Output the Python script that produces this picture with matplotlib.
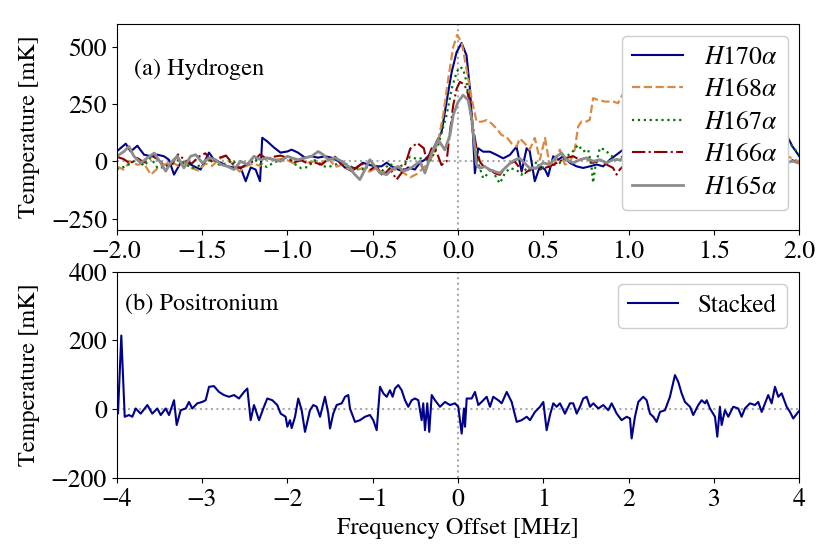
import numpy as np
import matplotlib
matplotlib.use("Agg")
import matplotlib.pyplot as plt

plt.rcParams['font.family'] = ['STIXGeneral', 'DejaVu Serif']
plt.rcParams['mathtext.fontset'] = 'stix'
plt.rcParams['font.size'] = 17
plt.rcParams['xtick.labelsize'] = 18.5
plt.rcParams['ytick.labelsize'] = 18.5

# ---- (a) hydrogen recombination lines ----
x_170 = [-2.0, -1.947, -1.918, -1.879, -1.84, -1.80, -1.762, -1.723, -1.694, -1.664,
         -1.625, -1.586, -1.547, -1.508, -1.459, -1.43, -1.39, -1.352, -1.313, -1.274,
         -1.244, -1.215, -1.186, -1.16, -1.147, -1.118, -1.078, -1.04, -1.0, -0.975,
         -0.938, -0.897, -0.858, -0.82, -0.78, -0.74, -0.70, -0.663, -0.623, -0.594,
         -0.557, -0.528, -0.487, -0.448, -0.418, -0.389, -0.35, -0.321, -0.292, -0.253,
         -0.223, -0.194, -0.155, -0.125, -0.096, -0.067, -0.037, -0.008, 0.021, 0.05,
         0.07, 0.089, 0.099, 0.118, 0.148, 0.187, 0.226, 0.265, 0.304, 0.343,
         0.373, 0.402, 0.42, 0.45, 0.48, 0.51, 0.528, 0.558, 0.587, 0.616,
         0.656, 0.695, 0.733, 0.773, 0.812, 0.851, 0.89, 0.929, 0.968, 0.988,
         1.05, 1.15, 1.25, 1.35, 1.45, 1.55, 1.65, 1.75, 1.85, 1.92, 1.96, 2.0]
h170 = [43, 77, 43, 68, 29, 22, 29, 22, 7, -58,
        -6, -6, -22, -36, 38, 7, -6, -22, -27, -27,
        -87, -27, -36, -87, 103, 87, 60, 38, 43, 51,
        38, 16, 22, 16, 22, 16, 0, -27, -43, -27,
        -6, -14, -22, -22, -6, -22, -36, -43, -27, -36,
        -6, 7, 38, 86, 129, 260, 390, 477, 517, 463,
        317, 100, -52, 57, 42, 42, 28, 13, 28, 64,
        -45, 57, 45, -87, -22, -36, -65, 22, 7, 22,
        -7, -22, -29, -22, -14, -22, 7, 29, 51, 72,
        90, 60, 40, 30, 50, 70, 85, 110, 123, 123, 65, 22]

# shared channel positions for the quiet part of the band
x_base = [-2.0, -1.96, -1.92, -1.88, -1.84, -1.80, -1.76, -1.72, -1.68, -1.64,
          -1.60, -1.56, -1.52, -1.48, -1.44, -1.40, -1.36, -1.32, -1.28, -1.24,
          -1.20, -1.16, -1.12, -1.08, -1.04, -1.00, -0.96, -0.92, -0.88, -0.84,
          -0.80, -0.76, -0.72, -0.68, -0.64, -0.60, -0.56, -0.52, -0.48, -0.44,
          -0.40, -0.36, -0.32, -0.28, -0.24]

x_168 = x_base + [-0.184, -0.145, -0.116, -0.087, -0.057, -0.028, -0.005, 0.021, 0.05, 0.08,
                  0.109, 0.138, 0.168, 0.197, 0.226, 0.255, 0.284, 0.314, 0.343, 0.362,
                  0.392, 0.42, 0.45, 0.48, 0.51, 0.538, 0.567, 0.597, 0.626, 0.655,
                  0.684, 0.704, 0.724, 0.753, 0.772, 0.792, 0.821, 0.861, 0.909, 0.938,
                  0.968, 0.988, 1.1, 1.3, 1.5, 1.7, 1.85, 1.92, 1.96, 2.0]
h168 = [-22, -36, 0, -15, -10, -58, -30, -15, 0, -20,
        -5, -30, -40, -10, -20, 10, 25, -15, -45, -20,
        -10, -20, 15, 5, 10, 5, -10, 10, -5, 0,
        -10, 15, -25, -15, -35, -40, -30, -45, -30, -50,
        -40, -35, -50, -70, -55,
        -16, 28, 86, 202, 361, 499, 552, 520, 404, 274,
        173, 173, 180, 165, 143, 115, 107, 78, 64, 100,
        78, 51, 102, 7, 102, -22, -7, 51, -14, -7,
        51, 152, 174, 174, 181, 276, 268, 261, 261, 254,
        297, 326, 340, 330, 300, 280, 250, 30, 10, 0]

x_167 = x_base + [-0.2, -0.165, -0.116, -0.067, -0.037, -0.008, 0.011, 0.03, 0.05, 0.07,
                  0.089, 0.109, 0.128, 0.148, 0.168, 0.197, 0.226, 0.245, 0.275, 0.304,
                  0.343, 0.372, 0.402, 0.431, 0.46, 0.48, 0.538, 0.597, 0.636, 0.665,
                  0.704, 0.733, 0.763, 0.782, 0.792, 0.802, 0.831, 0.861, 0.89, 0.929,
                  0.968, 1.1, 1.3, 1.5, 1.7, 1.85, 1.92, 1.96, 2.0]
h167 = [-35, -25, -10, 10, -20, 15, -30, -25, -15, 5,
        -10, -30, -20, -5, 10, -15, -10, 5, -30, -20,
        15, -10, -25, -5, 5, 20, -10, -30, -25, 5,
        -20, -25, -15, 0, -20, -30, -35, -10, -25, -40,
        -10, -30, -15, 20, 10,
        15, -1, 71, 202, 317, 390, 412, 404, 347, 231,
        115, 28, -30, -74, -59, -30, -74, -96, -52, -30,
        -37, -59, -30, -45, -1, -29, -22, -7, 22, 36,
        72, 43, 51, -22, -94, -36, 58, 51, 29, 7,
        22, 10, -10, 15, 0, 20, 94, 65, 30]

x_166 = x_base + [-0.2, -0.184, -0.155, -0.126, -0.097, -0.067, -0.047, -0.028, -0.008, 0.011,
                  0.03, 0.05, 0.07, 0.089, 0.109, 0.128, 0.157, 0.187, 0.216, 0.245,
                  0.275, 0.304, 0.333, 0.362, 0.392, 0.42, 0.45, 0.48, 0.538, 0.597,
                  0.636, 0.675, 0.714, 0.753, 0.792, 0.831, 0.87, 0.909, 0.929, 0.948,
                  0.978, 1.1, 1.3, 1.5, 1.7, 1.85, 1.92, 1.96, 2.0]
h166 = [20, 10, -10, 15, -5, 25, 10, -20, -15, 30,
        5, -10, 20, 35, -5, 15, 25, -10, -30, -15,
        0, 30, 10, 20, 25, 15, -5, 5, -10, -5,
        -15, 10, 20, -15, -25, -30, -10, -40, -20, -65,
        -30, -80, -40, 55, 80,
        57, -1, 57, 42, -16, -1, 129, 245, 317, 347,
        339, 317, 260, 143, 57, -1, -30, -37, -52, -59,
        -30, -9, -1, -30, -52, -37, -30, -36, -22, 0,
        15, 22, 7, 15, -7, 7, -14, -29, -58, -36,
        -14, 0, 10, -10, 5, 0, -5, 5, -10]

x_165 = [-2.0, -1.957, -1.928, -1.899, -1.859, -1.82, -1.78, -1.742, -1.713, -1.684,
         -1.645, -1.606, -1.567, -1.537, -1.498, -1.459, -1.42, -1.39, -1.352, -1.313,
         -1.274, -1.235, -1.196, -1.156, -1.118, -1.078, -1.04, -1.0, -0.975, -0.936,
         -0.897, -0.858, -0.819, -0.79, -0.76, -0.721, -0.682, -0.643, -0.604, -0.575,
         -0.545, -0.516, -0.487, -0.457, -0.418, -0.389, -0.35, -0.321, -0.292, -0.262,
         -0.223, -0.194, -0.155, -0.116, -0.077, -0.047, -0.028, 0.001, 0.03, 0.06,
         0.08, 0.099, 0.108, 0.128, 0.157, 0.187, 0.216, 0.245, 0.275, 0.304,
         0.333, 0.362, 0.392, 0.42, 0.46, 0.499, 0.538, 0.578, 0.607, 0.636,
         0.675, 0.714, 0.753, 0.792, 0.831, 0.87, 0.909, 0.948, 0.988, 1.1,
         1.3, 1.5, 1.7, 1.85, 1.92, 1.96, 2.0]
h165 = [22, 43, 65, 22, -7, 15, 36, -7, -43, -7,
        22, -29, 22, 29, -7, 15, 7, -14, -22, -36,
        0, -14, 22, 7, 15, 7, 0, 22, 15, 7,
        15, 22, 43, 29, 7, 15, 0, -22, -58, -80,
        -36, 7, -22, -51, -58, -36, -22, -43, -36, -22,
        0, -51, 36, 94, 50, 115, 202, 260, 289, 267,
        187, 57, -16, -30, -23, -37, -45, -52, -30, -9,
        6, 13, -9, -30, -29, -7, -14, 22, 36, 7,
        -7, 7, 15, 0, 7, -7, 7, 7, 15, 0,
        10, -5, 5, 0, -5, 0, -7]

# ---- (b) positronium stack ----
x_ps = [-4.0, -3.985, -3.946, -3.906, -3.856, -3.817, -3.777, -3.719, -3.641, -3.583,
        -3.524, -3.484, -3.426, -3.387, -3.328, -3.297, -3.25, -3.191, -3.153, -3.114,
        -3.055, -2.997, -2.957, -2.918, -2.86, -2.801, -2.743, -2.684, -2.625, -2.567,
        -2.508, -2.469, -2.43, -2.391, -2.332, -2.274, -2.235, -2.176, -2.118, -2.078,
        -2.02, -2.0, -1.969, -1.949, -1.91, -1.872, -1.832, -1.793, -1.735, -1.696,
        -1.656, -1.617, -1.559, -1.52, -1.5, -1.462, -1.422, -1.363, -1.324, -1.286,
        -1.266, -1.207, -1.149, -1.09, -1.032, -0.993, -0.953, -0.914, -0.875, -0.836,
        -0.797, -0.766, -0.739, -0.7, -0.66, -0.621, -0.583, -0.543, -0.504, -0.465,
        -0.426, -0.407, -0.387, -0.36, -0.337, -0.308, -0.27, -0.211, -0.152, -0.094,
        -0.035, 0.003, 0.043, 0.07, 0.082, 0.102, 0.16, 0.199, 0.238, 0.277,
        0.336, 0.375, 0.413, 0.472, 0.512, 0.571, 0.629, 0.688, 0.746, 0.805,
        0.844, 0.902, 0.961, 1.0, 1.039, 1.078, 1.117, 1.156, 1.195, 1.254,
        1.312, 1.351, 1.391, 1.43, 1.468, 1.508, 1.547, 1.586, 1.644, 1.703,
        1.761, 1.801, 1.86, 1.918, 1.977, 2.016, 2.035, 2.074, 2.113, 2.171,
        2.211, 2.25, 2.289, 2.328, 2.367, 2.426, 2.484, 2.543, 2.582, 2.621,
        2.66, 2.719, 2.757, 2.816, 2.856, 2.895, 2.915, 2.953, 3.012, 3.039,
        3.07, 3.09, 3.129, 3.168, 3.226, 3.285, 3.324, 3.363, 3.422, 3.48,
        3.519, 3.559, 3.598, 3.636, 3.676, 3.715, 3.754, 3.793, 3.852, 3.891,
        3.929, 3.988, 4.0]
stacked = [2, -13, 214, -22, -17, -22, 2, -13, 12, -13,
           2, -17, 2, -17, 26, -46, -3, 2, 21, 2,
           17, 21, 26, 65, 67, 50, 41, 36, 41, 31,
           50, 60, -32, 12, -32, 7, 31, 26, 12, -13,
           -22, -51, -32, -55, -22, 31, -3, -66, -3, 12,
           7, -22, 36, -13, -56, -13, 12, 17, 36, 41,
           2, -37, -32, -22, -17, -32, -61, 65, 46, 36,
           55, 36, 60, 70, 55, 26, 7, 26, 31, 26,
           -32, 17, -61, 17, -66, 41, 26, 7, 21, 12,
           17, 7, -71, 2, -51, 31, 31, 50, 12, 21,
           36, 7, 36, 26, 17, 50, 21, -37, -32, -22,
           -32, -8, 7, 21, -61, -17, 17, 7, 17, -13,
           17, 17, -13, 7, 31, 36, 7, 17, 2, 12,
           -3, 17, -13, -32, -22, -27, -85, -22, 21, 36,
           26, -13, -22, -37, -8, -3, 36, 99, 79, 46,
           21, 7, -17, 12, 26, 17, 26, 2, -22, -80,
           7, -46, -3, -22, 7, 2, -22, 2, 17, 12,
           21, -8, 17, 41, 17, 65, 36, 46, 7, -8,
           -27, -8, -5]

fig = plt.figure(figsize=(8.3, 5.59), dpi=100)
ax1 = fig.add_axes([0.1406, 0.5886, 0.8224, 0.3685])
ax2 = fig.add_axes([0.1406, 0.1449, 0.8224, 0.3694])

ref = dict(color='#aaaaaa', linestyle=':', linewidth=1.5, zorder=0)
ax1.axhline(0, **ref)
ax1.axvline(0, **ref)
ax1.plot(x_170, h170, color='#00008b', lw=1.5, label=r'$H170\alpha$')
ax1.plot(x_168, h168, color='#d98b45', lw=1.6, ls='--', label=r'$H168\alpha$')
ax1.plot(x_167, h167, color='#007a00', lw=1.6, ls=':', label=r'$H167\alpha$')
ax1.plot(x_166, h166, color='#8b0000', lw=1.5, ls='-.', label=r'$H166\alpha$')
ax1.plot(x_165, h165, color='#8c8c8c', lw=2.0, label=r'$H165\alpha$')
ax1.set_xlim(-2, 2)
ax1.set_ylim(-300, 600)
ax1.set_yticks([-250, 0, 250, 500])
ax1.set_ylabel('Temperature [mK]', fontsize=17.5, labelpad=8)
ax1.text(0.025, 0.78, '(a) Hydrogen', transform=ax1.transAxes, va='center', fontsize=17.5)
ax1.legend(loc='upper right', framealpha=1, edgecolor='#cccccc', fontsize=18.5,
           labelspacing=0.33, borderaxespad=0.45)

ax2.axhline(0, **ref)
ax2.axvline(0, **ref)
ax2.plot(x_ps, stacked, color='#00008b', lw=1.5, label='Stacked')
ax2.set_xlim(-4, 4)
ax2.set_ylim(-200, 400)
ax2.set_yticks([-200, 0, 200, 400])
ax2.set_ylabel('Temperature [mK]', fontsize=17.5, labelpad=8)
ax2.set_xlabel('Frequency Offset [MHz]', fontsize=17.5)
ax2.text(0.012, 0.84, '(b) Positronium', transform=ax2.transAxes, va='center', fontsize=17.5)
ax2.legend(loc='upper right', framealpha=1, edgecolor='#cccccc', fontsize=18)

fig.savefig('out.png', dpi=100)
